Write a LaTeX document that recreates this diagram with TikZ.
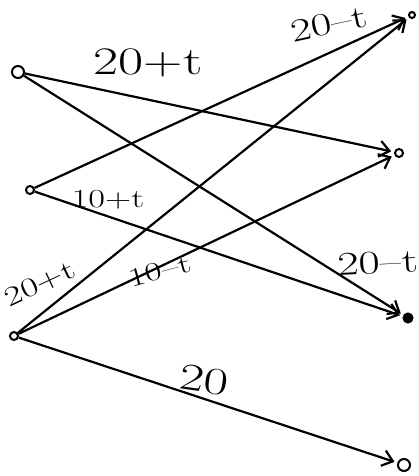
\documentclass[tikz,border=0pt]{standalone}
\usepackage{fontspec}
\usepackage{tikz}
\newcommand{\hw}[2]{{\fontsize{#1}{#1}\selectfont\scalebox{1.4}[1]{#2}}}
\tikzset{
  vert/.style={circle, draw, line width=2pt, inner sep=0pt, minimum size=#1},
  flow/.style={line width=2.2pt, ->, >={Straight Barb[length=10pt,width=16pt]}, shorten >=3pt},
  lab/.style={inner sep=1pt}
}
\usetikzlibrary{arrows.meta}
\begin{document}
\begin{tikzpicture}[x=1pt,y=-1pt]
\useasboundingbox (0,0) rectangle (418,476);
\node [vert=12pt] (l1) at (18,72) {};
\node [vert=8pt] (l2) at (30,190) {};
\node [vert=8pt] (l3) at (14,336) {};
\node [vert=6pt] (r1) at (412,15) {};
\node [vert=8pt] (r2) at (399,153) {};
\node [vert=9pt, fill] (r3) at (408,318) {};
\node [vert=12pt] (r4) at (404,465) {};
\draw [flow] (l1)--(r2);
\draw [flow] (l1)--(r3);
\draw [flow] (l2)--(r1);
\draw [flow] (l2)--(r3);
\draw [flow] (l3)--(r1);
\draw [flow] (l3)--(r2);
\draw [flow] (l3)--(r4);
\node [lab] (a) at (148,63) {\hw{39}{20+t}};
\node [lab, rotate=12] (b) at (329,24) {\hw{32}{20–t}};
\node [lab] (c) at (108,200) {\hw{26}{10+t}};
\node [lab, rotate=25] (d) at (40,284) {\hw{27}{20+t}};
\node [lab, rotate=15] (e) at (160,271) {\hw{26}{10–t}};
\node [lab, rotate=3] (f) at (378,263) {\hw{33}{20–t}};
\node [lab, rotate=-8] (g) at (204,380) {\hw{38}{20}};
%\draw (r3) node[below]{$s$};
\end{tikzpicture}
\end{document}
